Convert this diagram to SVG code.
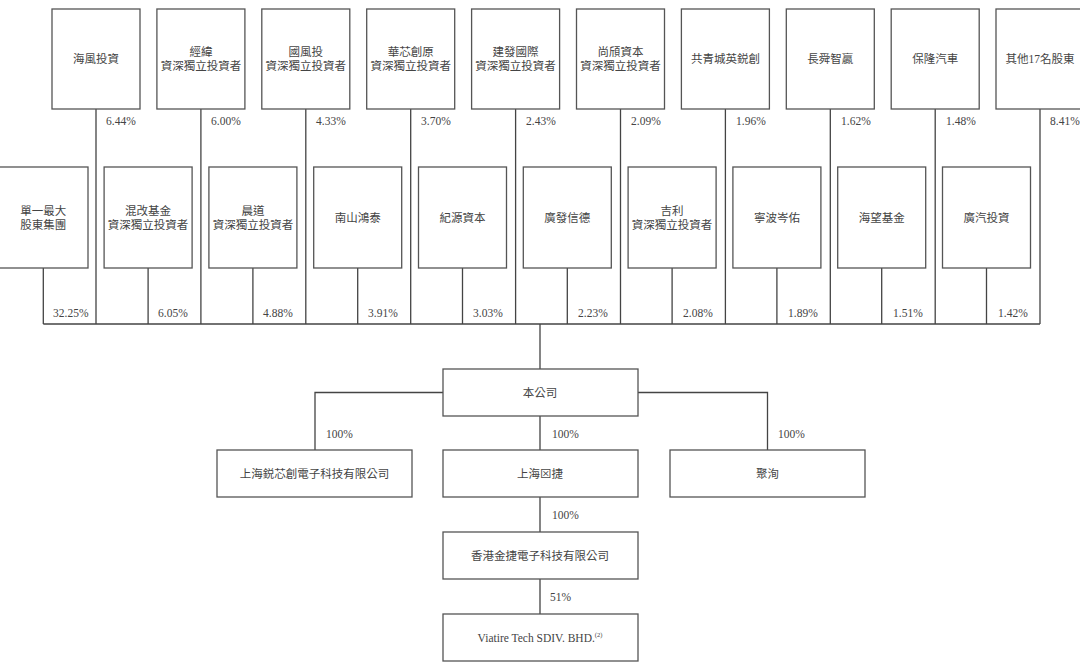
<svg xmlns="http://www.w3.org/2000/svg" width="1080" height="666" viewBox="0 0 1080 666">
<style>
.box{fill:#fff;stroke:#555;stroke-width:1.3}
.ln{fill:none;stroke:#444;stroke-width:1.3}
.t{font-family:"Liberation Serif","Noto Sans CJK TC",serif;font-size:11.5px;fill:#444;text-anchor:middle}
.p{font-family:"Liberation Serif","Noto Sans CJK TC",serif;font-size:11.5px;fill:#444}
</style>
<rect width="1080" height="666" fill="#fff"/>
<g id="connectors">
<path class="ln" d="M96 109V324M200.9 109V324M305.8 109V324M410.7 109V324M515.6 109V324M620.5 109V324M725.4 109V324M830.3 109V324M935.2 109V324M1040 109V324"/>
<path class="ln" d="M43.3 268V324M148.1 268V324M252.9 268V324M357.7 268V324M462.5 268V324M567.3 268V324M672.1 268V324M776.9 268V324M881.7 268V324M986.5 268V324"/>
<path class="ln" d="M43.3 324H1040M540 324V369"/>
<path class="ln" d="M443 392.5H315V450M638 392.5H767.5V450M540 416V450M540 497V532M540 579V614"/>
<text class="p" x="106" y="125">6.44%</text>
<text class="p" x="211" y="125">6.00%</text>
<text class="p" x="316" y="125">4.33%</text>
<text class="p" x="421" y="125">3.70%</text>
<text class="p" x="526" y="125">2.43%</text>
<text class="p" x="631" y="125">2.09%</text>
<text class="p" x="736" y="125">1.96%</text>
<text class="p" x="841" y="125">1.62%</text>
<text class="p" x="946" y="125">1.48%</text>
<text class="p" x="1050" y="125">8.41%</text>
<text class="p" x="53" y="317">32.25%</text>
<text class="p" x="158" y="317">6.05%</text>
<text class="p" x="263" y="317">4.88%</text>
<text class="p" x="368" y="317">3.91%</text>
<text class="p" x="473" y="317">3.03%</text>
<text class="p" x="578" y="317">2.23%</text>
<text class="p" x="683" y="317">2.08%</text>
<text class="p" x="788" y="317">1.89%</text>
<text class="p" x="893" y="317">1.51%</text>
<text class="p" x="998" y="317">1.42%</text>
<text class="p" x="326" y="438">100%</text>
<text class="p" x="552" y="438">100%</text>
<text class="p" x="778" y="438">100%</text>
<text class="p" x="552" y="519">100%</text>
<text class="p" x="550" y="601">51%</text>
</g>
<g id="n_haifeng"><rect class="box" x="52" y="9" width="88" height="100"/><text class="t" x="96" y="63">海風投資</text></g>
<g id="n_jingwei"><rect class="box" x="156.9" y="9" width="88" height="100"/><text class="t" x="200.9" y="56">經緯</text><text class="t" x="200.9" y="70">資深獨立投資者</text></g>
<g id="n_guofengtou"><rect class="box" x="261.8" y="9" width="88" height="100"/><text class="t" x="305.8" y="56">國風投</text><text class="t" x="305.8" y="70">資深獨立投資者</text></g>
<g id="n_huaxin"><rect class="box" x="366.7" y="9" width="88" height="100"/><text class="t" x="410.7" y="56">華芯創原</text><text class="t" x="410.7" y="70">資深獨立投資者</text></g>
<g id="n_jianfa"><rect class="box" x="471.6" y="9" width="88" height="100"/><text class="t" x="515.6" y="56">建發國際</text><text class="t" x="515.6" y="70">資深獨立投資者</text></g>
<g id="n_shangqi"><rect class="box" x="576.5" y="9" width="88" height="100"/><text class="t" x="620.5" y="56">尚頎資本</text><text class="t" x="620.5" y="70">資深獨立投資者</text></g>
<g id="n_gongqing"><rect class="box" x="681.4" y="9" width="88" height="100"/><text class="t" x="725.4" y="63">共青城英鋭創</text></g>
<g id="n_changshun"><rect class="box" x="786.3" y="9" width="88" height="100"/><text class="t" x="830.3" y="63">長舜智贏</text></g>
<g id="n_baolong"><rect class="box" x="891.2" y="9" width="88" height="100"/><text class="t" x="935.2" y="63">保隆汽車</text></g>
<g id="n_others"><rect class="box" x="996" y="9" width="88" height="100"/><text class="t" x="1040" y="63">其他17名股東</text></g>
<g id="n_single"><rect class="box" x="-1" y="167" width="89" height="101"/><text class="t" x="43.3" y="215">單一最大</text><text class="t" x="43.3" y="229">股東集團</text></g>
<g id="n_hungai"><rect class="box" x="104.1" y="167" width="88" height="101"/><text class="t" x="148.1" y="215">混改基金</text><text class="t" x="148.1" y="229">資深獨立投資者</text></g>
<g id="n_chendao"><rect class="box" x="208.9" y="167" width="88" height="101"/><text class="t" x="252.9" y="215">晨道</text><text class="t" x="252.9" y="229">資深獨立投資者</text></g>
<g id="n_nanshan"><rect class="box" x="313.7" y="167" width="88" height="101"/><text class="t" x="357.7" y="222">南山鴻泰</text></g>
<g id="n_jiyuan"><rect class="box" x="418.5" y="167" width="88" height="101"/><text class="t" x="462.5" y="222">紀源資本</text></g>
<g id="n_guangfa"><rect class="box" x="523.3" y="167" width="88" height="101"/><text class="t" x="567.3" y="222">廣發信德</text></g>
<g id="n_geely"><rect class="box" x="628.1" y="167" width="88" height="101"/><text class="t" x="672.1" y="215">吉利</text><text class="t" x="672.1" y="229">資深獨立投資者</text></g>
<g id="n_ningbo"><rect class="box" x="732.9" y="167" width="88" height="101"/><text class="t" x="776.9" y="222">寧波岑佑</text></g>
<g id="n_haiwang"><rect class="box" x="837.7" y="167" width="88" height="101"/><text class="t" x="881.7" y="222">海望基金</text></g>
<g id="n_guangqi"><rect class="box" x="942.5" y="167" width="88" height="101"/><text class="t" x="986.5" y="222">廣汽投資</text></g>
<g id="n_company"><rect class="box" x="443" y="369" width="195" height="47"/><text class="t" x="540" y="397">本公司</text></g>
<g id="n_ruixin"><rect class="box" x="217" y="450" width="195" height="47"/><text class="t" x="314.5" y="478">上海鋭芯創電子科技有限公司</text></g>
<g id="n_shanghai"><rect class="box" x="443" y="450" width="195" height="47"/><text class="t" x="540" y="478">上海⊠捷</text></g>
<g id="n_juxun"><rect class="box" x="670" y="450" width="195" height="47"/><text class="t" x="767.5" y="478">聚洵</text></g>
<g id="n_hk"><rect class="box" x="443" y="532" width="195" height="47"/><text class="t" x="540" y="560">香港金捷電子科技有限公司</text></g>
<g id="n_viatire"><rect class="box" x="443" y="614" width="195" height="47"/><text class="t" x="540" y="642">Viatire Tech SDIV. BHD.<tspan font-size="6.5" dy="-5">(2)</tspan></text></g>
</svg>
